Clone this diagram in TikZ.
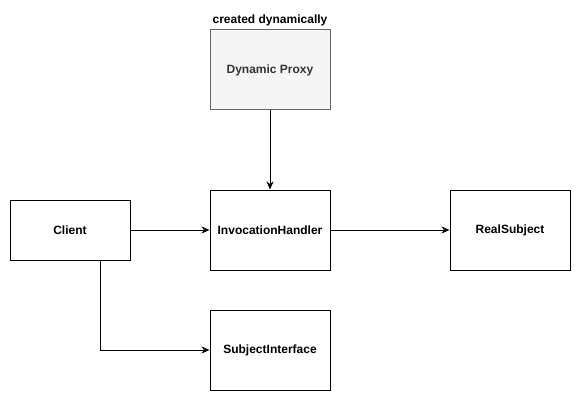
\documentclass[tikz,border=0pt]{standalone}
\usepackage{fontspec}
\setmainfont{Liberation Sans}
\usepackage{xcolor}
\usetikzlibrary{arrows.meta}
\definecolor{proxyfill}{HTML}{F5F5F5}
\definecolor{proxyline}{HTML}{666666}
\definecolor{proxytext}{HTML}{333333}

\begin{document}
\begin{tikzpicture}[x=10pt,y=10pt,
	box/.style={draw=black,line width=1pt,fill=white,minimum width=120pt,minimum height=80pt,font=\fontsize{12}{14}\selectfont\bfseries},
	link/.style={line width=1pt,-{Stealth[length=8pt,width=7pt,inset=2.5pt]}}]
			\tikzstyle{every node}+=[inner sep=0pt]
			\useasboundingbox (0,0) rectangle (58.1,-40.1);
			\node [box,fill=proxyfill,draw=proxyline,text=proxytext] (proxy) at (27,-7) {Dynamic Proxy};
			\node [font=\fontsize{12}{14}\selectfont\bfseries] (caption) at (27,-2) {created dynamically};
			\node [box] (handler) at (27,-23) {InvocationHandler};
			\node [box,minimum height=60pt] (client) at (7,-23) {Client};
			\node [box] (real) at (51,-23) {RealSubject};
			\node [box] (subject) at (27,-35) {SubjectInterface};
			\draw [link] (proxy) -- (handler);
			\draw [link] (client) -- (handler);
			\draw [link] (handler) -- (real);
			\draw [link] ([xshift=30pt]client.south) |- (subject);
		\end{tikzpicture}
\end{document}
